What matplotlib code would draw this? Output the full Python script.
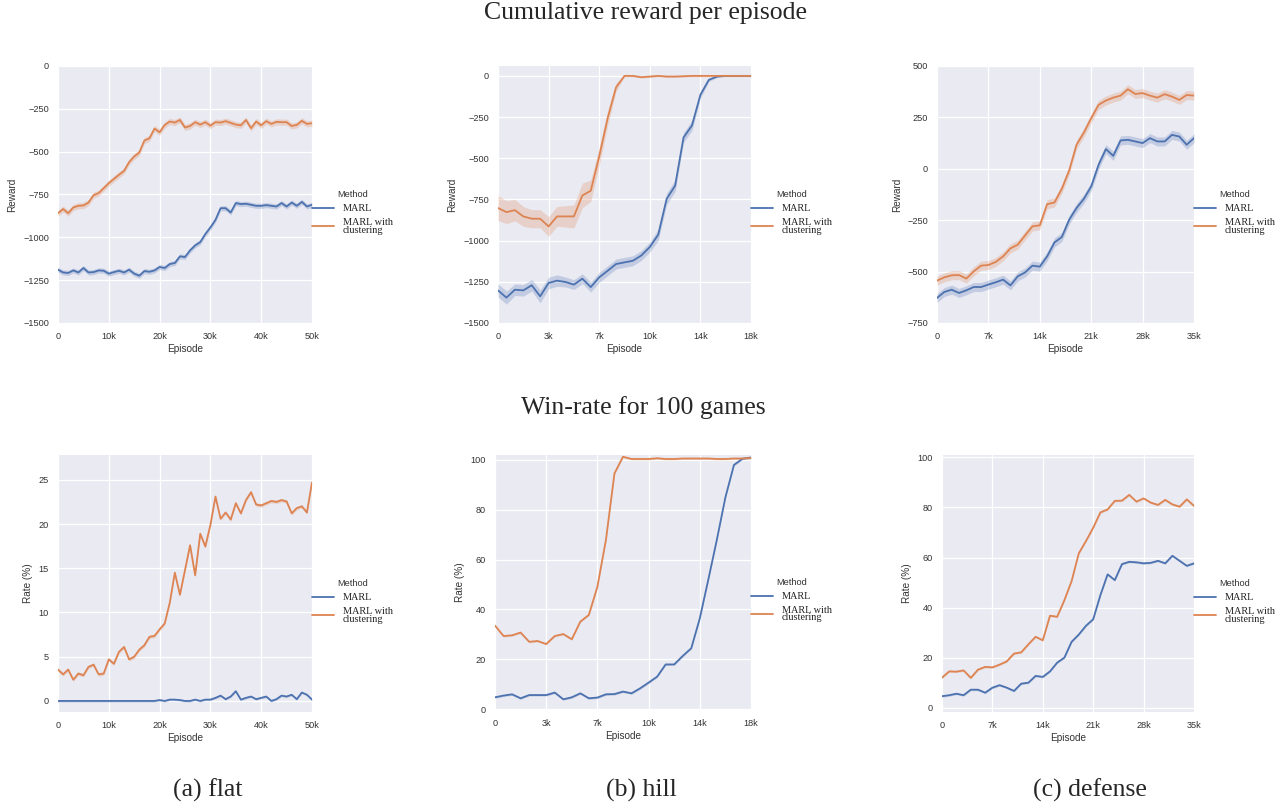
import numpy as np
import matplotlib
matplotlib.use("Agg")
import matplotlib.pyplot as plt
import seaborn as sns
from matplotlib.font_manager import FontProperties

sns.set_theme(style="darkgrid")
plt.rcParams['font.family'] = ['Liberation Sans', 'DejaVu Sans']

# ---------------- data ----------------
methods = ["MARL", "MARL with\nclustering"]

ep_flat = np.arange(0, 51000, 1000)
ep_hill = np.arange(0, 18001, 600)
ep_def = np.arange(0, 36000, 1000)

flat_xticks = [0, 10000, 20000, 30000, 40000, 50000]
flat_xlabels = ["0", "10k", "20k", "30k", "40k", "50k"]
hill_xticks = [0, 3600, 7200, 10800, 14400, 18000]
hill_xlabels = ["0", "3k", "7k", "10k", "14k", "18k"]
def_xticks = [0, 7000, 14000, 21000, 28000, 35000]
def_xlabels = ["0", "7k", "14k", "21k", "28k", "35k"]

reward_yticks_a = [0, -250, -500, -750, -1000, -1250, -1500]
reward_yticks_c = [500, 250, 0, -250, -500, -750]
rate_yticks_a = [0, 5, 10, 15, 20, 25]
rate_yticks_bc = [0, 20, 40, 60, 80, 100]

# Cumulative reward - flat
reward_flat_marl = [-1189, -1205, -1208, -1193, -1205, -1179, -1205, -1203, -1193, -1195,
                    -1212, -1203, -1195, -1205, -1189, -1212, -1224, -1197, -1201, -1193,
                    -1173, -1179, -1156, -1150, -1111, -1115, -1076, -1047, -1028, -981,
                    -942, -898, -830, -830, -855, -800, -806, -804, -810, -816,
                    -816, -812, -816, -820, -800, -820, -797, -816, -793, -820, -810]
reward_flat_clust = [-859, -835, -859, -826, -816, -814, -797, -754, -742, -713,
                     -684, -659, -635, -612, -561, -528, -505, -435, -422, -365,
                     -387, -344, -324, -330, -315, -359, -350, -328, -342, -328,
                     -348, -328, -330, -322, -332, -342, -346, -315, -363, -324,
                     -346, -322, -338, -326, -328, -328, -350, -344, -320, -338, -334]

# Cumulative reward - hill
reward_hill_marl = [-1302, -1346, -1298, -1302, -1271, -1338, -1257, -1243, -1251, -1267,
                    -1231, -1282, -1223, -1183, -1142, -1132, -1122, -1090, -1039, -964,
                    -746, -667, -374, -301, -115, -24, -4, 0, 0, 0, 0]
reward_hill_clust = [-802, -827, -815, -853, -867, -867, -914, -853, -853, -853,
                     -726, -697, -489, -257, -69, 0, 0, -8, -4, 0,
                     -4, -4, -2, 0, 0, 0, 0, 0, 0, 0, 0]
band_hill_marl = [40, 40, 35, 35, 35, 40, 35, 35, 30, 30, 30, 30, 30, 30, 30, 30,
                  30, 30, 30, 35, 35, 35, 30, 30, 20, 10, 5, 3, 3, 3, 3]
band_hill_clust = [75, 70, 65, 60, 55, 55, 60, 60, 65, 70, 75, 65, 55, 45, 25, 5,
                   5, 5, 5, 5, 5, 5, 5, 5, 5, 5, 5, 5, 5, 5, 5]

# Cumulative reward - defense
reward_def_marl = [-628, -599, -588, -604, -591, -575, -575, -563, -552, -539,
                   -567, -523, -504, -471, -476, -426, -358, -332, -248, -191,
                   -146, -86, 19, 96, 63, 138, 141, 133, 125, 149,
                   133, 133, 165, 157, 117, 149]
reward_def_clust = [-544, -528, -518, -517, -534, -499, -471, -468, -453, -426,
                    -387, -369, -324, -280, -275, -172, -164, -97, -8, 117,
                    176, 246, 311, 332, 346, 356, 387, 364, 368, 356,
                    346, 363, 351, 335, 359, 356]

# Win-rate - flat
rate_flat_marl = [0, 0, 0, 0, 0, 0, 0, 0, 0, 0, 0, 0, 0, 0, 0, 0, 0, 0, 0, 0,
                  0.1, 0, 0.15, 0.15, 0.1, 0, 0, 0.15, 0, 0.15, 0.15, 0.35, 0.6, 0.2,
                  0.5, 1.1, 0.15, 0.35, 0.5, 0.2, 0.35, 0.5, 0, 0.2, 0.6, 0.5, 0.7,
                  0.2, 0.95, 0.7, 0.15]
rate_flat_clust = [3.55, 3.0, 3.55, 2.4, 3.1, 2.9, 3.85, 4.1, 3.0, 3.1,
                   4.7, 4.2, 5.55, 6.1, 4.7, 5.0, 5.8, 6.3, 7.25, 7.35,
                   8.1, 8.75, 11.1, 14.5, 12.0, 14.8, 17.6, 14.2, 18.9, 17.45,
                   19.9, 23.1, 20.6, 21.3, 20.5, 22.35, 21.2, 22.7, 23.6, 22.2,
                   22.1, 22.35, 22.6, 22.5, 22.7, 22.55, 21.2, 21.8, 22.0, 21.3, 24.7]

# Win-rate - hill
rate_hill_marl = [4.7, 5.4, 5.9, 4.3, 5.6, 5.6, 5.6, 6.6, 3.9, 4.7,
                  6.3, 4.3, 4.6, 5.9, 6.0, 7.0, 6.3, 8.3, 10.6, 13.0,
                  17.9, 17.9, 21.3, 24.4, 36.4, 52, 68, 85, 98, 100.5, 101]
rate_hill_clust = [33.5, 29.3, 29.6, 30.7, 27.0, 27.3, 26.1, 29.3, 30.1, 28.0,
                   35.1, 37.8, 49.1, 67.9, 94.6, 101.3, 100.4, 100.4, 100.4, 100.7,
                   100.4, 100.4, 100.6, 100.6, 100.6, 100.6, 100.4, 100.4, 100.6, 100.6, 100.8]

# Win-rate - defense
rate_def_marl = [4.7, 5.1, 5.7, 5.1, 7.3, 7.3, 6.1, 8.1, 9.1, 8.1,
                 6.8, 9.7, 10.1, 12.8, 12.4, 14.6, 18.1, 20.1, 26.4, 29.3,
                 32.8, 35.4, 45.0, 53.3, 51.0, 57.4, 58.3, 58.1, 57.7, 57.9,
                 58.7, 57.7, 60.7, 58.7, 56.7, 57.7]
rate_def_clust = [12.1, 14.6, 14.5, 15.0, 12.0, 15.3, 16.4, 16.2, 17.3, 18.6,
                  21.7, 22.2, 25.4, 28.4, 27.0, 36.8, 36.4, 43.0, 50.6, 61.7,
                  66.6, 71.9, 78.0, 79.2, 82.6, 82.7, 85.0, 82.3, 83.6, 81.9,
                  81.0, 83.0, 81.2, 80.3, 83.2, 80.6]

row_titles = ["Cumulative reward per episode", "Win-rate for 100 games"]
captions = ["(a) flat", "(b) hill", "(c) defense"]

# ---------------- drawing ----------------
W, H = 1286, 811
fig = plt.figure(figsize=(W / 100, H / 100), dpi=100)
C_BLUE = "#4c72b0"
C_ORANGE = "#dd8452"

tick_fp = FontProperties(family="Liberation Sans", size=6.6)
label_fp = FontProperties(family="Liberation Sans", size=7.2)
leg_fp = FontProperties(family="Liberation Serif", size=7.4)
legt_fp = FontProperties(family="Liberation Sans", size=6.7)


def px_rect(x0, y0, x1, y1):
    return [x0 / W, 1 - y1 / H, (x1 - x0) / W, (y1 - y0) / H]


def fmt(v):
    s = str(int(v)) if float(v).is_integer() else str(v)
    return s.replace("-", "\u2212")


def panel(rect, x, marl, clust, band_m, band_c, ylim, yticks, xticks, xlabels, ylabel):
    ax = fig.add_axes(rect)
    marl = np.asarray(marl, float)
    clust = np.asarray(clust, float)
    band_m = np.broadcast_to(np.asarray(band_m, float), marl.shape)
    band_c = np.broadcast_to(np.asarray(band_c, float), clust.shape)
    ax.fill_between(x, marl - band_m, marl + band_m, color=C_BLUE, alpha=0.25, lw=0)
    ax.fill_between(x, clust - band_c, clust + band_c, color=C_ORANGE, alpha=0.25, lw=0)
    ax.plot(x, marl, color=C_BLUE, lw=1.3, label=methods[0])
    ax.plot(x, clust, color=C_ORANGE, lw=1.3, label=methods[1])
    ax.set_xlim(x[0], x[-1])
    ax.set_ylim(*ylim)
    ax.set_xticks(xticks)
    ax.set_xticklabels(xlabels, fontproperties=tick_fp)
    ax.set_yticks(yticks)
    ax.set_yticklabels([fmt(v) for v in yticks], fontproperties=tick_fp)
    ax.tick_params(axis="both", length=0, pad=6.5, colors="#333333")
    ax.set_xlabel("Episode", fontproperties=label_fp, labelpad=2, color="#333333")
    ax.set_ylabel(ylabel, fontproperties=label_fp, labelpad=4, color="#333333")
    ax.grid(True, color="white", lw=0.9)
    for s in ax.spines.values():
        s.set_visible(False)
    leg = ax.legend(loc="center left", bbox_to_anchor=(1.0, 0.43), frameon=False,
                    prop=leg_fp, title="Method", title_fontproperties=legt_fp,
                    handlelength=2.1, handletextpad=0.9, borderpad=0, borderaxespad=0,
                    labelspacing=0.45)
    for t in leg.get_texts():
        t.set_linespacing(0.8)
        t.set_color("#222222")
    leg.get_title().set_color("#333333")
    for l in leg.get_lines():
        l.set_linewidth(1.3)
    return ax


# top row: reward
panel(px_rect(58, 66, 312, 323), ep_flat, reward_flat_marl, reward_flat_clust, 15, 18,
      (-1500, 0), reward_yticks_a, flat_xticks, flat_xlabels, "Reward")
panel(px_rect(498, 66, 751, 323), ep_hill, reward_hill_marl, reward_hill_clust,
      band_hill_marl, band_hill_clust,
      (-1500, 60), reward_yticks_a, hill_xticks, hill_xlabels, "Reward")
panel(px_rect(937, 66, 1194, 323), ep_def, reward_def_marl, reward_def_clust, 22, 22,
      (-750, 500), reward_yticks_c, def_xticks, def_xlabels, "Reward")

# bottom row: win-rate
panel(px_rect(58, 455, 312, 712), ep_flat, rate_flat_marl, rate_flat_clust, 0.12, 0.2,
      (-1.25, 27.8), rate_yticks_a, flat_xticks, flat_xlabels, "Rate (%)")
panel(px_rect(495, 455, 751, 710), ep_hill, rate_hill_marl, rate_hill_clust, 0.4, 0.4,
      (-0.4, 102), rate_yticks_bc, hill_xticks, hill_xlabels, "Rate (%)")
panel(px_rect(942, 455, 1194, 712), ep_def, rate_def_marl, rate_def_clust, 0.4, 0.4,
      (-1.6, 100.9), rate_yticks_bc, def_xticks, def_xlabels, "Rate (%)")

title_fp = FontProperties(family="Liberation Serif", size=18.5)
fig.text(645 / W, 1 - 19 / H, row_titles[0], ha="center", va="baseline", fontproperties=title_fp)
fig.text(643 / W, 1 - 414 / H, row_titles[1], ha="center", va="baseline", fontproperties=title_fp)
for cx, cap in zip([208, 641, 1090], captions):
    fig.text(cx / W, 1 - 797 / H, cap, ha="center", va="baseline", fontproperties=title_fp)

fig.savefig("out.png", dpi=100, facecolor="white")
